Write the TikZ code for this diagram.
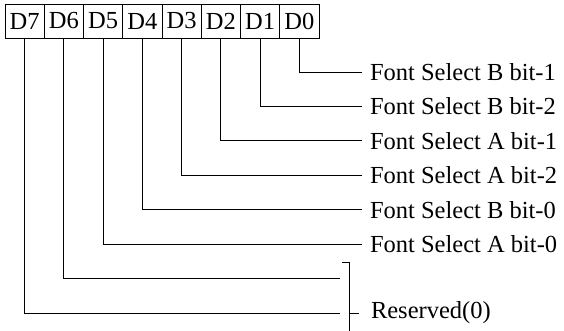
\documentclass[tikz,border=0pt]{standalone}
\usepackage{fontspec}
\setmainfont{Liberation Serif}
\begin{document}
\begin{tikzpicture}[x=1pt,y=-1pt,line width=0.9pt,
  cell/.style={draw,minimum width=39.25pt,minimum height=34pt,inner sep=0pt,outer sep=0pt,font=\fontsize{24.5}{28}\selectfont},
  lab/.style={anchor=west,inner xsep=8pt,inner ysep=0pt,outer sep=0pt,font=\fontsize{24.5}{28}\selectfont}]
\useasboundingbox (0,0) rectangle (564,330);
\foreach \i [count=\k from 0] in {7,6,5,4,3,2,1,0}{
  \node[cell] (d\i) at ({5+(\k+0.5)*39.25},21) {D\i};
}
\node[lab] (l0) at (362,72) {Font Select B bit-1};
\node[lab] (l1) at (362,106.4) {Font Select B bit-2};
\node[lab] (l2) at (362,140.9) {Font Select A bit-1};
\node[lab] (l3) at (362,175.3) {Font Select A bit-2};
\node[lab] (l4) at (362,209.7) {Font Select B bit-0};
\node[lab] (l5) at (362,244.1) {Font Select A bit-0};
\coordinate (r6) at (340,278.6);
\coordinate (r7) at (340,313);
\coordinate (bt) at (349,262);
\coordinate (bb) at (349,334);
\coordinate (btl) at (342,262);
\coordinate (bm) at (349,313);
\node[lab,inner xsep=12pt] (res) at (359,313) {Reserved(0)};
\foreach \i in {0,...,5}{ \draw (d\i.south) |- (l\i.west); }
\draw (d6.south) |- (r6);
\draw (d7.south) |- (r7);
\draw (btl) -- (bt) -- (bb);
\draw (bm) -- (res.west);
\end{tikzpicture}
\end{document}
